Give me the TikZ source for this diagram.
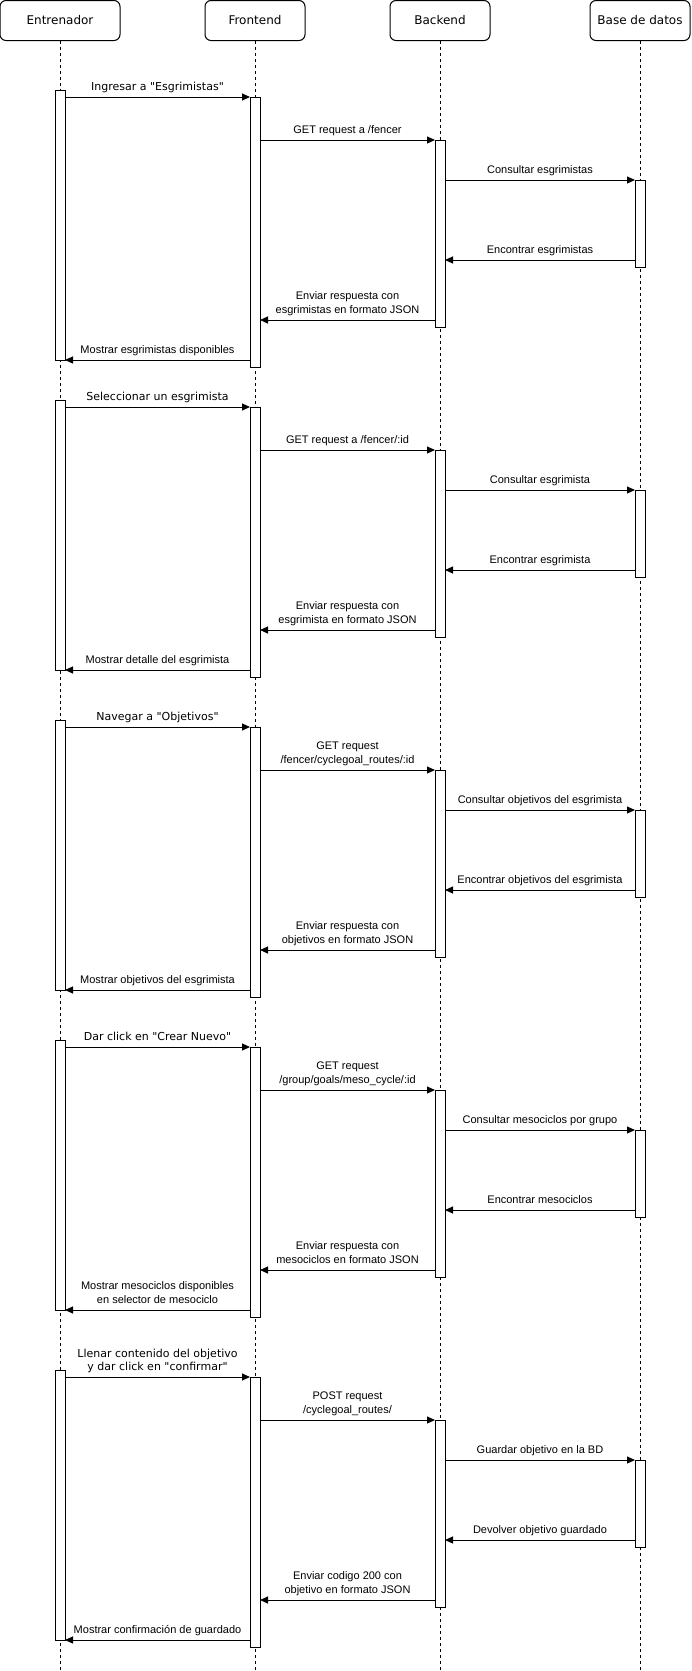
\documentclass[tikz,border=0pt]{standalone}
\usepackage{fontspec}
\setmainfont{Liberation Sans}
\newfontfamily\uifont{DejaVu Sans}
\usetikzlibrary{positioning,arrows.meta}
\tikzset{
    actor/.style={draw, fill=white, rounded corners=6pt, minimum height=40pt, minimum width=100pt,
        inner sep=0pt, outer sep=0pt, font=\uifont\fontsize{12}{14}\selectfont},
    vida/.style={dash pattern=on 3pt off 3pt},
    barra/.style={draw, fill=white, minimum width=10pt, inner sep=0pt, outer sep=0pt, anchor=north},
    mensaje/.style={-{Triangle[length=8pt,width=7pt]}},
    texto/.style={anchor=south, inner sep=0pt, text depth=0pt, align=center, yshift=6pt,
        font=\fontsize{11}{14}\selectfont},
    textoui/.style={texto, font=\uifont\fontsize{11}{13.5}\selectfont}
}
% un bloque: barras de activacion y los seis mensajes
\newcommand\bloque[7]{%
    \node[barra, minimum height=270pt] (ent#1) at (ent |- 0,#1) {};
    \node[barra, minimum height=270pt] (fro#1) at (fro |- 0,#1+7) {};
    \node[barra, minimum height=187pt] (bck#1) at (bck |- 0,#1+50) {};
    \node[barra, minimum height=87pt] (dat#1) at (dat |- 0,#1+90) {};
    \coordinate (rd#1) at ([yshift=7pt]dat#1.south west);
    \coordinate (rb#1) at ([yshift=7pt]bck#1.south west);
    \coordinate (rf#1) at ([yshift=7pt]fro#1.south west);
    \draw[mensaje] (ent#1.east |- fro#1.north) -- node[textoui] {#2} (fro#1.north west);
    \draw[mensaje] (fro#1.east |- bck#1.north) -- node[texto] {#3} (bck#1.north west);
    \draw[mensaje] (bck#1.east |- dat#1.north) -- node[texto] {#4} (dat#1.north west);
    \draw[mensaje] (rd#1) -- node[texto] {#5} (rd#1 -| bck#1.east);
    \draw[mensaje] (rb#1) -- node[texto] {#6} (rb#1 -| fro#1.east);
    \draw[mensaje] (rf#1) -- node[texto] {#7} (ent#1.south east);
}

\begin{document}
\begin{tikzpicture}[x=1pt, y=-1pt, line width=1pt]
        \useasboundingbox (0,0) rectangle (691,1671);
        % Participantes
        \node[actor, minimum width=120pt] (ent) at (60,20.5) {Entrenador};
        \node[actor, right=85pt of ent] (fro) {Frontend};
        \node[actor, right=85pt of fro] (bck) {Backend};
        \node[actor, right=100pt of bck] (dat) {Base de datos};
        % Lineas de vida
        \coordinate (fin) at (0,1671);
        \draw[vida] (ent.south) -- (ent.south |- fin) (fro.south) -- (fro.south |- fin)
            (bck.south) -- (bck.south |- fin) (dat.south) -- (dat.south |- fin);
        % Bloques
        \bloque{90}{Ingresar a "Esgrimistas"}{GET request a /fencer}{Consultar esgrimistas}
            {Encontrar esgrimistas}{Enviar respuesta con\\esgrimistas en formato JSON}{Mostrar esgrimistas disponibles}
        \bloque{400}{Seleccionar un esgrimista}{GET request a /fencer/:id}{Consultar esgrimista}
            {Encontrar esgrimista}{Enviar respuesta con\\esgrimista en formato JSON}{Mostrar detalle del esgrimista}
        \bloque{720}{Navegar a "Objetivos"}{GET request\\/fencer/cyclegoal\_routes/:id}{Consultar objetivos del esgrimista}
            {Encontrar objetivos del esgrimista}{Enviar respuesta con\\objetivos en formato JSON}{Mostrar objetivos del esgrimista}
        \bloque{1040}{Dar click en "Crear Nuevo"}{GET request\\/group/goals/meso\_cycle/:id}{Consultar mesociclos por grupo}
            {Encontrar mesociclos}{Enviar respuesta con\\mesociclos en formato JSON}{Mostrar mesociclos disponibles\\en selector de mesociclo}
        \bloque{1370}{Llenar contenido del objetivo\\y dar click en "confirmar"}{POST request\\/cyclegoal\_routes/}{Guardar objetivo en la BD}
            {Devolver objetivo guardado}{Enviar codigo 200 con\\objetivo en formato JSON}{Mostrar confirmación de guardado}
    \end{tikzpicture}
\end{document}
